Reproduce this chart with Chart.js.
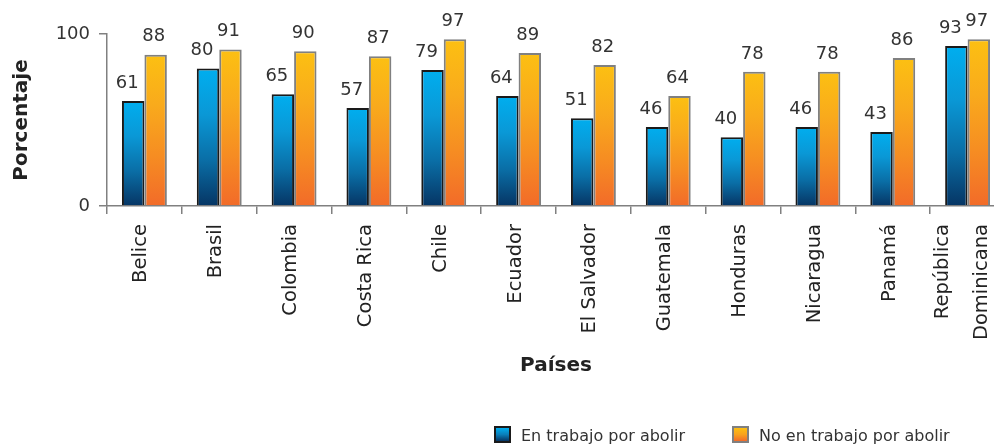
<!DOCTYPE html>
<html>
<head>
<meta charset="utf-8">
<script src="https://cdn.jsdelivr.net/npm/chart.js@4.4.1/dist/chart.umd.min.js"></script>
<style>
html, body { margin: 0; padding: 0; background: #fff; overflow: hidden; }
#wrap { position: relative; width: 1005px; height: 447px; }
.leyenda { position: absolute; top: 426px; font: 16px "DejaVu Sans", Verdana, sans-serif; color: #333; white-space: nowrap; }
.leyenda span.caja { display: inline-block; width: 13px; height: 13px; vertical-align: -2px; margin-right: 10px; }
</style>
</head>
<body>
<div id="wrap">
  <canvas id="myChart" width="1005" height="447"></canvas>
  <div class="leyenda" style="left:494px"><span class="caja" style="border:2px solid #1a1a1a;background:linear-gradient(#00aeef,#0a7fba,#063564)"></span>En trabajo por abolir</div>
  <div class="leyenda" style="left:732px"><span class="caja" style="border:2px solid #808080;background:linear-gradient(#fcbf12,#f8a21e,#f26b29)"></span>No en trabajo por abolir</div>
</div>
<script>
// datos
var paises = ['Belice', 'Brasil', 'Colombia', 'Costa Rica', 'Chile', 'Ecuador', 'El Salvador', 'Guatemala', 'Honduras', 'Nicaragua', 'Panamá', ['República', 'Dominicana']];
var enTrabajo = [61, 80, 65, 57, 79, 64, 51, 46, 40, 46, 43, 93];
var noEnTrabajo = [88, 91, 90, 87, 97, 89, 82, 64, 78, 78, 86, 97];
var ejeY = [0, 100];

var fuente = '"DejaVu Sans", Verdana, sans-serif';
var gris = '#808080';

// degradado vertical de cada barra (arriba claro, abajo oscuro)
function degradado(colores) {
    return function (ctx) {
        var chart = ctx.chart;
        if (!chart.chartArea || ctx.type !== 'data') return colores[0];
        var y = chart.scales.y;
        var arriba = y.getPixelForValue(ctx.raw);
        var abajo = y.getPixelForValue(0);
        var g = chart.ctx.createLinearGradient(0, arriba, 0, abajo);
        for (var i = 0; i < colores.length; i++) {
            g.addColorStop(i / (colores.length - 1), colores[i]);
        }
        return g;
    };
}

// numeros encima de las barras
var etiquetas = {
    id: 'etiquetas',
    afterDatasetsDraw: function (chart) {
        var c = chart.ctx;
        c.save();
        c.font = '18px ' + fuente;
        c.fillStyle = '#333';
        c.textAlign = 'center';
        c.textBaseline = 'bottom';
        chart.data.datasets.forEach(function (ds, i) {
            var desplaz = i == 0 ? -6 : -2;
            chart.getDatasetMeta(i).data.forEach(function (bar, j) {
                c.fillText(ds.data[j], bar.x + desplaz, bar.y - 9);
            });
        });
        c.restore();
    }
};

// la etiqueta de dos lineas va un poco a la izquierda, como en el original
function moverEtiquetas(s) {
    if (s._movido) return;
    s._movido = true;
    var orig = s._computeLabelItems;
    s._computeLabelItems = function (area) {
        var items = orig.call(this, area);
        items.forEach(function (it, i) {
            if (Array.isArray(paises[i])) it.options.translation[0] -= 22;
        });
        return items;
    };
}

var totalChart = new Chart('myChart', {
    type: 'bar',
    data: {
        labels: paises,
        datasets: [
            {
                label: 'En trabajo por abolir',
                data: enTrabajo,
                backgroundColor: degradado(['#00aeef', '#0a98d6', '#0a6ea6', '#063564']),
                borderColor: '#1a1a1a',
                borderWidth: 2,
                categoryPercentage: 0.6,
                barPercentage: 1
            },
            {
                label: 'No en trabajo por abolir',
                data: noEnTrabajo,
                backgroundColor: degradado(['#fcc012', '#f9aa1c', '#f68d22', '#f26b29']),
                borderColor: gris,
                borderWidth: 2,
                categoryPercentage: 0.6,
                barPercentage: 1
            }
        ]
    },
    options: {
        responsive: false,
        animation: false,
        layout: { padding: { top: 34, bottom: 61, left: 0, right: 0 } },
        plugins: {
            legend: { display: false },
            tooltip: { enabled: false }
        },
        scales: {
            x: {
                grid: { offset: true, drawOnChartArea: false, tickLength: 8, color: gris, lineWidth: 1.5 },
                border: { color: gris, width: 1.5 },
                ticks: {
                    minRotation: 90, maxRotation: 90, autoSkip: false, padding: 10, labelOffset: -3,
                    color: '#222',
                    font: function (ctx) {
                        var dos = Array.isArray(paises[ctx.index]);
                        return { family: fuente, size: 19.5, lineHeight: dos ? 2 : 1.2 };
                    }
                },
                title: {
                    display: true, text: 'Países', color: '#222',
                    font: { family: fuente, size: 20, weight: 'bold' },
                    padding: { top: 4, bottom: 8 }
                },
                afterFit: function (s) {
                    s.height = 180;
                    s.paddingLeft = 0;
                    s.paddingRight = 0;
                    moverEtiquetas(s);
                }
            },
            y: {
                min: 0, max: 100,
                afterBuildTicks: function (s) { s.ticks = ejeY.map(function (v) { return { value: v }; }); },
                grid: { drawOnChartArea: false, tickLength: 8, color: gris, lineWidth: 1.5 },
                border: { color: gris, width: 1.5 },
                ticks: { padding: 9, color: '#333', font: { family: fuente, size: 18 } },
                title: {
                    display: true, text: 'Porcentaje', color: '#222',
                    font: { family: fuente, size: 20, weight: 'bold' },
                    padding: { top: 10, bottom: 0 }
                },
                afterFit: function (s) { s.width = 107; s.paddingTop = 0; s.paddingBottom = 0; }
            }
        }
    },
    plugins: [etiquetas]
});
</script>
</body>
</html>
